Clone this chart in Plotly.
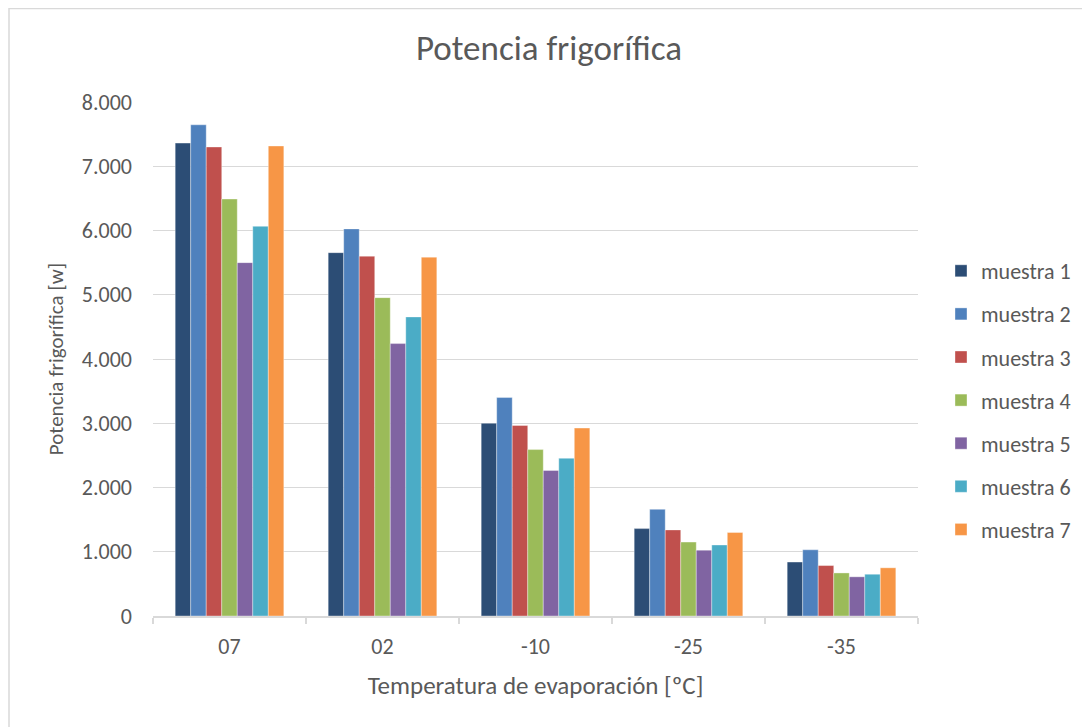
import plotly.graph_objects as go

categories = ["07", "02", "-10", "-25", "-35"]
series_names = ["muestra 1", "muestra 2", "muestra 3", "muestra 4", "muestra 5", "muestra 6", "muestra 7"]
muestra_1 = [7360, 5655, 3000, 1360, 840]
muestra_2 = [7645, 6025, 3400, 1660, 1030]
muestra_3 = [7300, 5600, 2965, 1340, 785]
muestra_4 = [6490, 4955, 2590, 1150, 670]
muestra_5 = [5500, 4240, 2265, 1025, 610]
muestra_6 = [6065, 4655, 2455, 1105, 650]
muestra_7 = [7315, 5585, 2925, 1300, 750]
series_values = [muestra_1, muestra_2, muestra_3, muestra_4, muestra_5, muestra_6, muestra_7]
colors = ["#2C4D75", "#4F81BD", "#C0504D", "#9BBB59", "#8064A2", "#4BACC6", "#F79646"]

FONT = "Carlito, Lato, sans-serif"
TXT = "#595959"

fig = go.Figure()
for name, vals, col in zip(series_names, series_values, colors):
    fig.add_trace(go.Bar(
        x=categories, y=vals, name=name, legendgroup=name,
        marker=dict(color=col, line=dict(color="rgba(255,255,255,0.6)", width=0.6)),
    ))

# page body has an 8px margin: work in figure coordinates = screen - 8
OFF = 8
W, H = 1090 - OFF, 727 - OFF
L, R, T, B = 153 - OFF, 918 - OFF, 102 - OFF, 616 - OFF

def px(x):
    return (x - OFF - L) / (R - L)

def py(y):
    return (B - (y - OFF)) / (B - T)

fig.update_layout(
    width=W, height=H,
    margin=dict(l=L, r=W - R, t=T, b=H - B, autoexpand=False),
    paper_bgcolor="white", plot_bgcolor="white",
    separators=",.",
    barmode="group", bargap=0.29, bargroupgap=0,
    font=dict(family=FONT, color=TXT, size=22),
    title=dict(text="Potencia frigorífica", x=0.5, xanchor="center",
               y=1 - (48 - OFF) / H, yanchor="middle",
               font=dict(family=FONT, size=35, color=TXT)),
    legend=dict(x=px(941), y=py(250), xanchor="left", yanchor="top",
                traceorder="grouped", tracegroupgap=11.5,
                font=dict(family=FONT, size=22, color=TXT),
                itemwidth=30, bgcolor="rgba(0,0,0,0)"),
    xaxis=dict(
        type="category",
        showline=True, linecolor="#D9D9D9", linewidth=1.5,
        ticks="outside", tickson="boundaries", ticklen=6, tickcolor="#D9D9D9", tickwidth=1.5,
        ticklabelstandoff=10,
        tickfont=dict(family=FONT, size=22, color=TXT),
        title=dict(text="Temperatura de evaporación [ºC]", standoff=17,
                   font=dict(family=FONT, size=25, color=TXT)),
        showgrid=False,
    ),
    yaxis=dict(
        range=[0, 8000], dtick=1000, tickformat=",d",
        showgrid=True, gridcolor="#D9D9D9", gridwidth=1.3,
        zeroline=False, showline=False,
        ticks="", ticklabelstandoff=20,
        tickfont=dict(family=FONT, size=22, color=TXT),
        title=dict(text="Potencia frigorífica [w]", standoff=12,
                   font=dict(family=FONT, size=21, color=TXT)),
    ),
    shapes=[dict(type="rect", xref="paper", yref="paper",
                 x0=px(9), x1=px(1200), y0=py(800), y1=py(8.5),
                 line=dict(color="#D9D9D9", width=1.5), fillcolor="rgba(0,0,0,0)",
                 layer="below")],
)

fig.write_html("out.html")
